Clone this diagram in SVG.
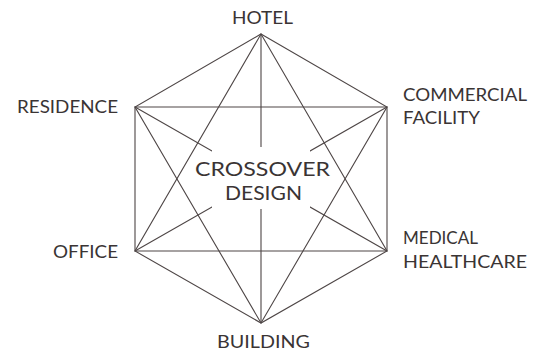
<svg xmlns="http://www.w3.org/2000/svg" width="535" height="353" viewBox="0 0 535 353">
<style>
.e{stroke:#4e4646;stroke-width:1.1;fill:none}
.t{font-family:Lato,"Open Sans","Liberation Sans",sans-serif;fill:#3a3434;font-size:17.5px}
.c{font-size:19.5px}
</style>
<rect width="535" height="353" fill="#fff"/>
<g id="connectors">
<path class="e" d="M261 34L387 107L387 251L261 323L135 251L135 107Z"/>
<path class="e" d="M261 34L387 251L135 251Z"/>
<path class="e" d="M135 107L387 107L261 323Z"/>
<path class="e" d="M261 34L261 323M135 107L387 251M387 107L135 251"/>
</g>
<g id="center">
<rect x="212" y="147" width="98" height="62" fill="#fff"/>
<text class="t c" x="262.5" y="176" text-anchor="middle" textLength="135" lengthAdjust="spacingAndGlyphs">CROSSOVER</text>
<text class="t c" x="263.5" y="200" text-anchor="middle" textLength="77" lengthAdjust="spacingAndGlyphs">DESIGN</text>
</g>
<g id="hotel"><text class="t" x="232" y="24" textLength="61" lengthAdjust="spacingAndGlyphs">HOTEL</text></g>
<g id="commercial"><text class="t" x="403" y="100.5" textLength="124" lengthAdjust="spacingAndGlyphs">COMMERCIAL</text><text class="t" x="403" y="124" textLength="77" lengthAdjust="spacingAndGlyphs">FACILITY</text></g>
<g id="medical"><text class="t" x="403" y="244" textLength="75" lengthAdjust="spacingAndGlyphs">MEDICAL</text><text class="t" x="403" y="268" textLength="124" lengthAdjust="spacingAndGlyphs">HEALTHCARE</text></g>
<g id="building"><text class="t" x="217" y="348" textLength="93" lengthAdjust="spacingAndGlyphs">BUILDING</text></g>
<g id="office"><text class="t" x="53" y="258" textLength="65" lengthAdjust="spacingAndGlyphs">OFFICE</text></g>
<g id="residence"><text class="t" x="17" y="113" textLength="101" lengthAdjust="spacingAndGlyphs">RESIDENCE</text></g>
</svg>
